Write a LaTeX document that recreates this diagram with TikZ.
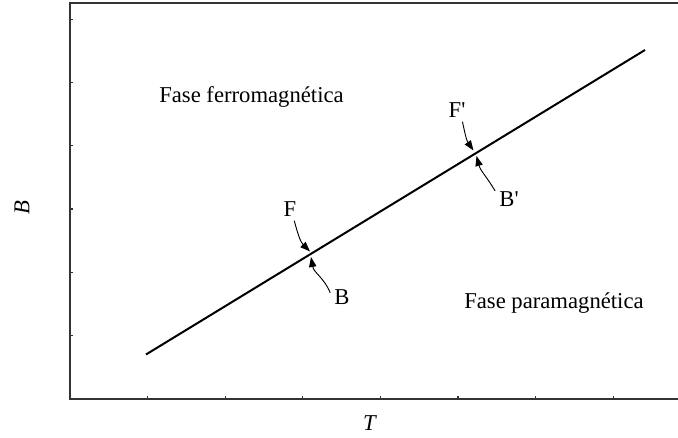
\documentclass[tikz,border=0pt]{standalone}
\usepackage{fontspec}
\setmainfont{Liberation Serif}
\usetikzlibrary{arrows.meta}

\begin{document}
\begin{tikzpicture}[x=0.75pt,y=-0.75pt,
  lbl/.style={font=\fontsize{17}{20}\selectfont,inner sep=3pt},
  marco/.style={line width=1pt,black!80},
  flecha/.style={-{Triangle[length=7.5pt,width=5.5pt]},line width=0.7pt}]
\useasboundingbox (0,0) rectangle (678,438);
\draw[marco] (678,3)--(70,3)--(70,399)--(678,399);
\foreach \k in {1,...,7} \draw[marco] (70+77.6*\k,399)--(70+77.6*\k,396);
\foreach \k in {1,...,6} \draw[marco] (70,399-63.3*\k)--(73,399-63.3*\k);
\node[lbl,rotate=90] (ejeB) at (22,208) {\textit{B}};
\node[lbl] (ejeT) at (370,423) {\textit{T}};
\coordinate (lo) at (146,354.5);
\coordinate (hi) at (645,50);
\draw[line width=1.5pt] (lo)--(hi);
\node[lbl,anchor=base west] (ferro) at (155,103) {Fase ferromagnética};
\node[lbl,anchor=base west] (para) at (460,308) {Fase paramagnética};
\node[lbl] (lblF) at (290,209) {F};
\node[lbl] (lblB) at (342,297) {B};
\node[lbl] (lblFp) at (457,110) {F\textquotesingle};
\node[lbl] (lblBp) at (509,199) {B\textquotesingle};
\coordinate (tF) at (310,251.5);
\coordinate (tB) at (311,257);
\coordinate (tFp) at (473.5,150.5);
\coordinate (tBp) at (476.5,156);
\draw[flecha] (lblF.-70) to[out=-75,in=135] (tF);
\draw[flecha] (lblB.160) to[out=112,in=-80] (tB);
\draw[flecha] (lblFp.-65) to[out=-78,in=125] (tFp);
\draw[flecha] (lblBp.150) to[out=120,in=-75] (tBp);
\end{tikzpicture}
\end{document}
